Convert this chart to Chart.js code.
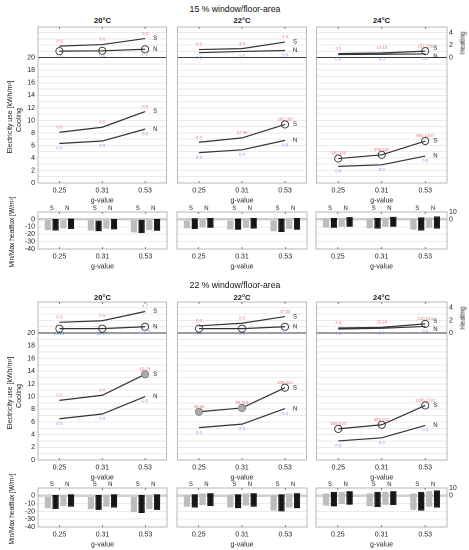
<!DOCTYPE html>
<html><head><meta charset="utf-8">
<script src="https://cdn.jsdelivr.net/npm/chart.js@4.4.0/dist/chart.umd.min.js"></script>
<style>
body{margin:0;width:469px;height:550px;background:#fff;position:relative;overflow:hidden;font-family:"Liberation Sans",Arial,sans-serif;color:#222}
.t{position:absolute;white-space:nowrap;transform:translate(-50%,-50%);line-height:1}
canvas{position:absolute}
</style></head><body>
<script>
// ---------- DATA ----------
const gValues = ["0.25","0.31","0.53"];
const temps = ["20","22","24"];
const windowShares = ["15","22"];

// 15 % window/floor-area  (rows: 20°C, 22°C, 24°C; columns: g-values)
const coolS15 = [[8.1,8.9,11.4],[6.5,7.2,9.35],[3.9,4.5,6.7]];
const coolN15 = [[6.3,6.7,8.6],[4.85,5.3,6.8],[2.65,2.9,4.3]];
const heatS15 = [[1.85,2.1,3.05],[1.3,1.45,2.5],[0.65,0.75,1.05]];
const heatN15 = [[1.05,1.1,1.35],[0.8,1.0,1.15],[0.5,0.55,0.6]];
// 22 % window/floor-area
const coolS22 = [[9.4,10.2,13.5],[7.6,8.2,11.4],[4.9,5.55,8.6]];
const coolN22 = [[6.5,7.25,10.0],[5.1,5.65,8.1],[3.0,3.5,5.45]];
const heatS22 = [[1.7,1.95,3.4],[1.15,1.55,2.6],[0.8,0.9,1.45]];
const heatN22 = [[0.7,0.7,1.0],[0.7,0.7,1.0],[0.65,0.75,1.05]];

// point annotations (hours)
const labCoolS15 = [["0 0","0 0","0 0"],["4 4","37 39","182 186"],["335 358","499 532","984 1207"]];
const labCoolN15 = [["0 0","0 0","0 0"],["0 0","0 0","0 0"],["0 0","0 0","0 0"]];
const labHeatS15 = [["0 0","0 0","0 0"],["0 0","3 3","4 4"],["3 3","14 15","157 158"]];
const labHeatN15 = [["0 0","0 0","0 2"],["0 0","0 0","0 0"],["0 0","0 0","0 0"]];
const labCoolS22 = [["0 0","0 0","53 74"],["45 56","96 118","409 442"],["546 570","681 722","1186 1192"]];
const labCoolN22 = [["0 0","0 0","0 0"],["0 0","0 0","0 0"],["0 0","0 0","0 0"]];
const labHeatS22 = [["0 0","0 0","4 7"],["0 0","0 0","47 50"],["3 3","22 24","210 214"]];
const labHeatN22 = [["29 29","29 27","15 15"],["0 0","0 0","1 1"],["0 0","0 0","0 0"]];

// highlighted points: 0 none, 1 open circle, 2 filled circle
const markCoolS15 = [[0,0,0],[0,0,1],[1,1,1]];
const markCoolN15 = [[0,0,0],[0,0,0],[0,0,0]];
const markHeatS15 = [[0,0,0],[0,0,0],[0,0,1]];
const markHeatN15 = [[1,1,1],[0,0,0],[0,0,0]];
const markCoolS22 = [[0,0,2],[2,2,1],[1,1,1]];
const markCoolN22 = [[0,0,0],[0,0,0],[0,0,0]];
const markHeatS22 = [[0,0,0],[0,0,0],[0,0,1]];
const markHeatN22 = [[1,1,1],[1,1,1],[0,0,0]];

// min/max heat flux [low, high] per g-value (S grey, S black, N grey, N black)
const fluxSg15 = [[[-14.5,-1],[-15,-1],[-17.5,-1]],[[-12,0],[-13.5,0],[-16,0]],[[-11,1],[-12,1],[-14,1]]];
const fluxSb15 = [[[-15,0.5],[-16,0],[-18.5,-0.5]],[[-13,1.5],[-14,1],[-17,1]],[[-11.5,2],[-12.5,2],[-15,2.5]]];
const fluxNg15 = [[[-12,-1],[-12.5,-1],[-14.5,-1]],[[-11,1],[-11.5,1],[-13,1]],[[-10,2],[-10,2.5],[-11.5,2.5]]];
const fluxNb15 = [[[-13,1],[-13.5,0.5],[-15.5,0.5]],[[-11.5,2],[-12.5,2],[-14,2]],[[-10,3],[-10,3.5],[-12.5,4]]];
const fluxSg22 = [[[-16,0],[-17,0],[-21,0]],[[-14,1],[-15,1],[-19,1]],[[-12.5,3],[-13.5,3],[-18,3]]];
const fluxSb22 = [[[-17,1],[-18,1],[-22,1]],[[-15,2],[-16,2],[-20,2]],[[-13.5,5],[-14.5,5],[-19,5]]];
const fluxNg22 = [[[-13,1],[-14,1],[-17,1]],[[-12,3],[-12.5,3],[-15,3]],[[-10.5,5],[-11.5,5],[-14,6]]];
const fluxNb22 = [[[-14,2],[-15,2],[-18,2]],[[-13,3.5],[-14,3.5],[-16,3.5]],[[-11.5,6],[-12,6],[-15,7]]];

const coolTicks = [0,2,4,6,8,10,12,14,16,18,20];
const coolGrid = [0,1,2,3,4,5,6,7,8,9,10,11,12,13,14,15,16,17,18,19,20,21,22,23,24];
const heatTicks = [0,2,4];
const fluxTicksLeft = [0,-10,-20,-30,-40];
const fluxTicksRight = [10,0];
const fluxGrid = [-40,-30,-20,-10,0,10];

// ---------- LAYOUT ----------
const FONT = '"Liberation Sans", Arial, sans-serif';
const TXT = '#262626';
const cols = [{L:38,R:167},{L:177,R:307},{L:316,R:447}];
const halves = [
  {share:windowShares[0], titleY:9, panelY:20.5, lineTop:27, lineBot:183, barTop:212, barBot:249,
   coolS:coolS15, coolN:coolN15, heatS:heatS15, heatN:heatN15,
   lab:[labCoolS15,labCoolN15,labHeatS15,labHeatN15], mark:[markCoolS15,markCoolN15,markHeatS15,markHeatN15],
   flux:[fluxSg15,fluxSb15,fluxNg15,fluxNb15]},
  {share:windowShares[1], titleY:285, panelY:297.5, lineTop:302, lineBot:460, barTop:488, barBot:527,
   coolS:coolS22, coolN:coolN22, heatS:heatS22, heatN:heatN22,
   lab:[labCoolS22,labCoolN22,labHeatS22,labHeatN22], mark:[markCoolS22,markCoolN22,markHeatS22,markHeatN22],
   flux:[fluxSg22,fluxSb22,fluxNg22,fluxNb22]}
];

function makeCanvas(left, top, w, h){
  const c = document.createElement('canvas');
  c.width = w; c.height = h;
  c.style.left = left+'px'; c.style.top = top+'px';
  c.style.width = w+'px'; c.style.height = h+'px';
  document.body.appendChild(c);
  return c;
}
function addText(html, x, y, css, rot){
  const d = document.createElement('div');
  d.className = 't';
  d.innerHTML = html;
  d.style.left = x+'px'; d.style.top = y+'px';
  d.style.cssText += css;
  if (rot) d.style.transform = 'translate(-50%,-50%) rotate('+rot+'deg)';
  document.body.appendChild(d);
}
const f = (s, w) => ({size:s, family:FONT, weight:w||'normal'});
const setTicks = list => (s => { s.ticks = list.map(v=>({value:v})); });

function xScale(padB){
  return {type:'category', labels:gValues, offset:true,
    grid:{display:false, drawTicks:false}, border:{display:false},
    ticks:{font:f(7), color:TXT, padding:3.5, maxRotation:0, autoSkip:false},
    title:{display:true, text:'g-value', font:f(7), color:TXT, padding:{top:1,bottom:0}},
    afterFit:s=>{s.height=padB;}};
}

function boxAndTicks(chart){
  const ctx = chart.ctx, a = chart.chartArea;
  ctx.save();
  ctx.strokeStyle = '#a8a8a8'; ctx.lineWidth = 0.8;
  ctx.strokeRect(a.left, a.top, a.right-a.left, a.bottom-a.top);
  const xs = chart.scales.x;
  ctx.strokeStyle = '#555'; ctx.lineWidth = 0.7;
  for (let i=0;i<gValues.length;i++){
    const px = xs.getPixelForValue(i);
    ctx.beginPath();
    ctx.moveTo(px, a.top); ctx.lineTo(px, a.top+2);
    ctx.moveTo(px, a.bottom); ctx.lineTo(px, a.bottom-2);
    ctx.stroke();
  }
  ctx.restore();
}

function lineChart(H, ci){
  const C = cols[ci];
  const padL = ci===0 ? 30 : 4, padR = ci===2 ? 22 : 4, padT = 8, padB = 22;
  const w = C.R - C.L + padL + padR, h = H.lineBot - H.lineTop + padT + padB;
  const cv = makeCanvas(C.L - padL, H.lineTop - padT, w, h);
  const series = [H.coolS[ci], H.coolN[ci], H.heatS[ci], H.heatN[ci]];
  const axes = ['y','y','y2','y2'];
  const datasets = series.map((vals, k) => {
    const m = H.mark[k][ci];
    return {data: vals, yAxisID: axes[k], borderColor:'#333', borderWidth:1.2, tension:0, fill:false,
      pointRadius: m.map(v=>v?3.6:0), pointHoverRadius:0,
      pointBorderColor: m.map(v=>v===2?'#808080':'#333'),
      pointBackgroundColor: m.map(v=>v===2?'#ababab':'rgba(0,0,0,0)'),
      pointBorderWidth: 0.9};
  });
  const annot = {id:'annot'+ci, afterDatasetsDraw(chart){
    boxAndTicks(chart);
    const ctx = chart.ctx;
    ctx.save();
    ctx.textAlign = 'center'; ctx.textBaseline = 'middle';
    ctx.font = '4.3px '+FONT;
    for (let k=0;k<4;k++){
      const meta = chart.getDatasetMeta(k);
      const labs = H.lab[k][ci];
      const isS = (k%2===0);
      ctx.fillStyle = isS ? '#ee7a7a' : '#6f9fe3';
      meta.data.forEach((pt, j) => {
        ctx.fillText(labs[j], pt.x, pt.y + (isS ? -5 : 5));
      });
    }
    // S / N end labels
    ctx.fillStyle = '#222'; ctx.font = '6px '+FONT; ctx.textAlign = 'left';
    for (const pair of [[0,1],[2,3]]){
      const pS = chart.getDatasetMeta(pair[0]).data[2], pN = chart.getDatasetMeta(pair[1]).data[2];
      let yS = pS.y, yN = pN.y;
      if (yN - yS < 8){ const mid=(yS+yN)/2; yS = mid-4; yN = mid+4; }
      ctx.fillText('S', pS.x+8, yS);
      ctx.fillText('N', pN.x+8, yN);
    }
    ctx.restore();
  }};
  new Chart(cv, {
    type:'line',
    data:{labels:gValues, datasets},
    options:{responsive:false, animation:false, devicePixelRatio:2, events:[],
      layout:{padding:{top:padT,left:0,right:0,bottom:0}},
      plugins:{legend:{display:false}, tooltip:{enabled:false}},
      scales:{
        x: xScale(padB),
        y: {position:'left', min:0, max:24.9, afterBuildTicks:setTicks(coolGrid),
          ticks:{display:ci===0, autoSkip:false, font:f(7), color:TXT, padding:3,
            callback:v=> coolTicks.includes(v) ? String(v) : ''},
          grid:{drawTicks:false, color:c=> c.tick.value===20 ? '#3a3a3a' : '#e4e4e4', lineWidth:c=> c.tick.value===20 ? 1 : 0.8},
          border:{display:false}, afterFit:s=>{s.width=padL;}},
        y2: {position:'right', min:-20, max:4.9, afterBuildTicks:setTicks(heatTicks),
          ticks:{display:ci===2, autoSkip:false, font:f(7), color:TXT, padding:2,
            callback:v=> String(v)},
          grid:{display:false, drawTicks:false}, border:{display:false}, afterFit:s=>{s.width=padR;}}
      }},
    plugins:[annot]
  });
}

function barChart(H, ci){
  const C = cols[ci];
  const padL = ci===0 ? 30 : 4, padR = ci===2 ? 22 : 4, padT = 12, padB = 22;
  const w = C.R - C.L + padL + padR, h = H.barBot - H.barTop + padT + padB;
  const cv = makeCanvas(C.L - padL, H.barTop - padT, w, h);
  const fills = ['#bdbdbd','#161616','#bdbdbd','#161616'];
  const borders = ['#bdbdbd','#000','#bdbdbd','#000'];
  const datasets = H.flux.map((arr,k)=>({data:arr[ci], backgroundColor:fills[k], borderColor:borders[k],
    borderWidth:k%2?0.8:0, borderSkipped:false, categoryPercentage:0.72, barPercentage:0.8}));
  const annot = {id:'bannot'+ci, afterDatasetsDraw(chart){
    boxAndTicks(chart);
    const ctx = chart.ctx, a = chart.chartArea;
    ctx.save();
    ctx.fillStyle = '#222'; ctx.font = '6px '+FONT; ctx.textAlign='center'; ctx.textBaseline='middle';
    for (let i=0;i<gValues.length;i++){
      const m = k=>chart.getDatasetMeta(k).data[i].x;
      ctx.fillText('S', (m(0)+m(1))/2, a.top-3.5);
      ctx.fillText('N', (m(2)+m(3))/2, a.top-3.5);
    }
    ctx.restore();
  }};
  new Chart(cv, {
    type:'bar',
    data:{labels:gValues, datasets},
    options:{responsive:false, animation:false, devicePixelRatio:2, events:[],
      layout:{padding:{top:padT,left:0,right:0,bottom:0}},
      plugins:{legend:{display:false}, tooltip:{enabled:false}},
      scales:{
        x: xScale(padB),
        y: {position:'left', min:-40, max:10, afterBuildTicks:setTicks(fluxGrid),
          ticks:{display:ci===0, autoSkip:false, font:f(7), color:TXT, padding:3,
            callback:v=> fluxTicksLeft.includes(v) ? String(v) : ''},
          grid:{drawTicks:false, color:c=> c.tick.value===0 ? '#cdcdcd' : '#e4e4e4', lineWidth:c=> c.tick.value===0 ? 2.4 : 0.8},
          border:{display:false}, afterFit:s=>{s.width=padL;}},
        y2: {position:'right', min:-40, max:10, afterBuildTicks:setTicks(fluxTicksRight),
          ticks:{display:ci===2, autoSkip:false, font:f(7), color:TXT, padding:2,
            callback:v=> String(v)},
          grid:{display:false, drawTicks:false}, border:{display:false}, afterFit:s=>{s.width=padR;}}
      }},
    plugins:[annot]
  });
}

halves.forEach(H=>{
  addText(H.share+' % window/floor-area', 235, H.titleY, 'font-size:8.7px;color:#111;');
  cols.forEach((C,ci)=>{
    addText(temps[ci]+'°C', (C.L+C.R)/2, H.panelY, 'font-size:7.5px;font-weight:bold;color:#111;');
    lineChart(H, ci);
    barChart(H, ci);
  });
  const coolMid = (H.lineTop + 30.5 + H.lineBot)/2;
  addText('Electricity use [kWh/m²]', 9, coolMid-3, 'font-size:7px;color:#222;', -90);
  addText('Cooling', 17.5, coolMid, 'font-size:7px;color:#222;', -90);
  addText('Min/Max heatflux [W/m²]', 11.5, (H.barTop+H.barBot)/2+1, 'font-size:6.6px;color:#222;', -90);
  addText('Heating', 463, H.lineTop+16, 'font-size:6.6px;color:#222;', -90);
});
</script>
</body></html>
